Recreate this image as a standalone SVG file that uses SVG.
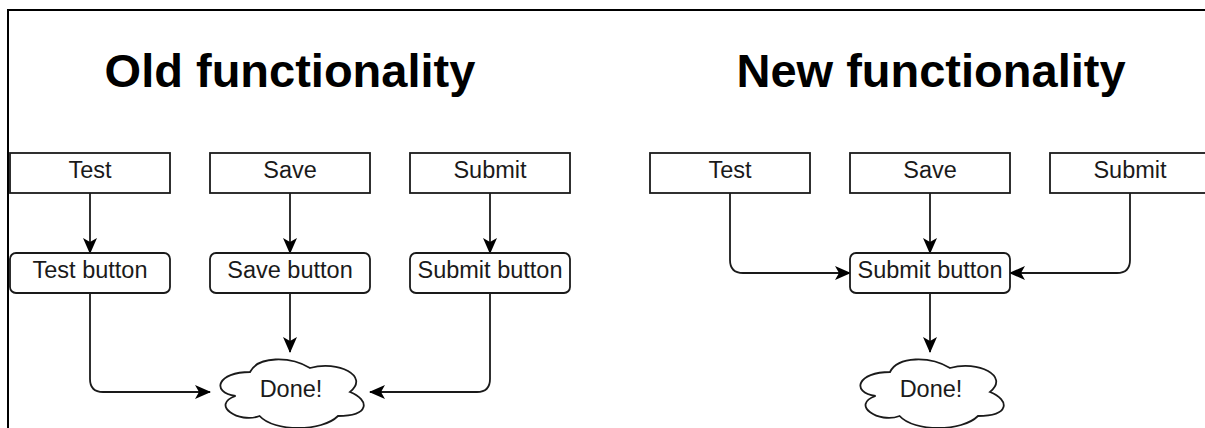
<svg xmlns="http://www.w3.org/2000/svg" width="1205" height="428" viewBox="0 0 1205 428">
  <defs>
    <marker id="arrow" viewBox="0 0 16 14" refX="15" refY="7" markerWidth="16" markerHeight="14" markerUnits="userSpaceOnUse" orient="auto">
      <path d="M0,0 L16,7 L0,14 L4,7 Z" fill="#000"/>
    </marker>
    <!-- cloud outline in a 160x80 box -->
    <path id="cloud" d="M40,20 C8,20 0,40 25.6,44 C0,52.8 28.8,72 49.6,64 C64,80 112,80 128,64 C160,64 160,48 140,40 C160,24 128,8 100,16 C80,4 48,4 40,20 Z"/>
  </defs>
  <style>
    .frame { stroke: #000; stroke-width: 2; fill: none; }
    .box { fill: #fff; stroke: #1a1a1a; stroke-width: 1.8; }
    .cloud { fill: #fff; stroke: #1a1a1a; stroke-width: 1.8; }
    .lbl { font-family: "Liberation Sans", Arial, sans-serif; font-size: 23.5px; fill: #1a1a1a; text-anchor: middle; dominant-baseline: central; }
    .title { font-family: "Liberation Sans", Arial, sans-serif; font-size: 47px; font-weight: bold; fill: #000; text-anchor: middle; }
    .edge { fill: none; stroke: #1a1a1a; stroke-width: 1.8; marker-end: url(#arrow); }
  </style>

  <rect width="1205" height="428" fill="#fff"/>
  <path class="frame" d="M8,429 L8,10 L1206,10"/>

  <text class="title" x="290" y="87">Old functionality</text>
  <text class="title" x="931" y="87">New functionality</text>

  <g id="connectors">
    <!-- old flow -->
    <path class="edge" d="M90,193 L90,253"/>
    <path class="edge" d="M290,193 L290,253"/>
    <path class="edge" d="M490,193 L490,253"/>
    <path class="edge" d="M90,293 L90,379 Q90,392 103,392 L210,392"/>
    <path class="edge" d="M290,293 L290,352"/>
    <path class="edge" d="M490,293 L490,379 Q490,392 477,392 L370,392"/>
    <!-- new flow -->
    <path class="edge" d="M730,193 L730,260 Q730,273 743,273 L850,273"/>
    <path class="edge" d="M930,193 L930,253"/>
    <path class="edge" d="M1130,193 L1130,260 Q1130,273 1117,273 L1010,273"/>
    <path class="edge" d="M930,293 L930,352"/>
  </g>

  <!-- old functionality -->
  <g id="old-test"><rect class="box" x="10" y="153" width="160" height="40"/><text class="lbl" x="90" y="170">Test</text></g>
  <g id="old-save"><rect class="box" x="210" y="153" width="160" height="40"/><text class="lbl" x="290" y="170">Save</text></g>
  <g id="old-submit"><rect class="box" x="410" y="153" width="160" height="40"/><text class="lbl" x="490" y="170">Submit</text></g>
  <g id="old-test-button"><rect class="box" x="10" y="253" width="160" height="40" rx="6"/><text class="lbl" x="90" y="270">Test button</text></g>
  <g id="old-save-button"><rect class="box" x="210" y="253" width="160" height="40" rx="6"/><text class="lbl" x="290" y="270">Save button</text></g>
  <g id="old-submit-button"><rect class="box" x="410" y="253" width="160" height="40" rx="6"/><text class="lbl" x="490" y="270">Submit button</text></g>
  <g id="old-done"><use href="#cloud" class="cloud" x="210" y="352"/><text class="lbl" x="291" y="389">Done!</text></g>

  <!-- new functionality -->
  <g id="new-test"><rect class="box" x="650" y="153" width="160" height="40"/><text class="lbl" x="730" y="170">Test</text></g>
  <g id="new-save"><rect class="box" x="850" y="153" width="160" height="40"/><text class="lbl" x="930" y="170">Save</text></g>
  <g id="new-submit"><rect class="box" x="1050" y="153" width="160" height="40"/><text class="lbl" x="1130" y="170">Submit</text></g>
  <g id="new-submit-button"><rect class="box" x="850" y="253" width="160" height="40" rx="6"/><text class="lbl" x="930" y="270">Submit button</text></g>
  <g id="new-done"><use href="#cloud" class="cloud" x="850" y="352"/><text class="lbl" x="931" y="389">Done!</text></g>
</svg>
